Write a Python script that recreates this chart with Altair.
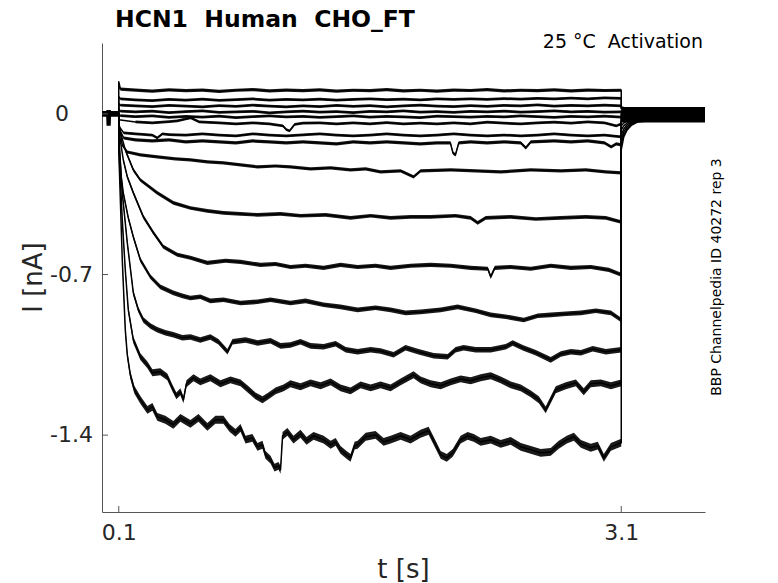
import altair as alt
import pandas as pd

# ---------------- data ----------------
X_TICKS = [0.1, 3.1]
X_LABELS = ["0.1", "3.1"]
Y_TICKS = [0, -0.7, -1.4]
Y_LABELS = ["0", "-0.7", "-1.4"]

T_FLAT = [0.1, 0.1, 0.11, 0.2, 0.3, 0.4, 0.5, 0.6, 0.7, 0.8, 0.9, 1.0, 1.1, 1.2, 1.3, 1.4, 1.5,
          1.6, 1.7, 1.8, 1.9, 2.0, 2.1, 2.2, 2.3, 2.4, 2.5, 2.6, 2.7, 2.8, 2.9, 3.0, 3.1]
I1 = [0.0, 0.14, 0.108, 0.104, 0.099, 0.105, 0.101, 0.104, 0.098, 0.103, 0.106, 0.100, 0.104,
      0.101, 0.105, 0.099, 0.103, 0.101, 0.106, 0.100, 0.103, 0.099, 0.104, 0.102, 0.106, 0.100,
      0.103, 0.101, 0.105, 0.100, 0.104, 0.102, 0.103]
I2 = [0.0, 0.075, 0.066, 0.061, 0.058, 0.063, 0.060, 0.064, 0.059, 0.062, 0.065, 0.060, 0.063,
      0.061, 0.064, 0.060, 0.063, 0.066, 0.062, 0.064, 0.061, 0.065, 0.063, 0.066, 0.063, 0.067,
      0.064, 0.068, 0.065, 0.069, 0.066, 0.070, 0.068]
I3 = [0.0, 0.045, 0.038, 0.035, 0.032, 0.037, 0.034, 0.031, 0.036, 0.033, 0.038, 0.034, 0.031,
      0.035, 0.032, 0.037, 0.033, 0.036, 0.031, 0.035, 0.038, 0.034, 0.032, 0.036, 0.033, 0.037,
      0.035, 0.039, 0.034, 0.037, 0.035, 0.038, 0.035]
I4 = [0.0, 0.02, 0.012, 0.009, 0.012, 0.006, 0.010, 0.013, 0.007, 0.009, 0.011, 0.005, 0.009,
      0.012, 0.008, 0.010, 0.006, 0.011, 0.009, 0.013, 0.008, 0.010, 0.007, 0.011, 0.009, 0.012,
      0.008, 0.010, 0.013, 0.009, 0.011, 0.008, 0.009]
I5 = [0.0, -0.004, -0.008, -0.012, -0.009, -0.015, -0.011, -0.014, -0.010, -0.016, -0.012, -0.009,
      -0.013, -0.011, -0.015, -0.012, -0.009, -0.014, -0.011, -0.013, -0.016, -0.010, -0.012,
      -0.014, -0.011, -0.013, -0.009, -0.012, -0.015, -0.011, -0.013, -0.010, -0.014]

T6 = [0.1, 0.1, 0.2, 0.3, 0.4, 0.45, 0.5, 0.53, 0.58, 0.7, 0.8, 0.9, 1.0, 1.08, 1.1, 1.12, 1.15,
      1.2, 1.3, 1.4, 1.5, 1.6, 1.7, 1.8, 1.9, 2.0, 2.1, 2.2, 2.3, 2.4, 2.5, 2.6, 2.7, 2.8, 2.9,
      3.0, 3.07, 3.1]
I6 = [0.0, -0.026, -0.035, -0.039, -0.034, -0.030, -0.022, -0.017, -0.035, -0.039, -0.044, -0.039,
      -0.044, -0.052, -0.068, -0.074, -0.046, -0.040, -0.039, -0.044, -0.039, -0.043, -0.038,
      -0.044, -0.040, -0.044, -0.039, -0.043, -0.036, -0.040, -0.044, -0.039, -0.036, -0.040,
      -0.035, -0.039, -0.052, -0.044]

T7 = [0.1, 0.1, 0.13, 0.2, 0.3, 0.33, 0.36, 0.4, 0.5, 0.6, 0.7, 0.8, 0.9, 1.0, 1.1, 1.2, 1.3, 1.4,
      1.5, 1.6, 1.7, 1.8, 1.9, 2.0, 2.1, 2.2, 2.3, 2.4, 2.5, 2.6, 2.7, 2.8, 2.9, 3.0, 3.1]
I7 = [0.0, -0.052, -0.083, -0.087, -0.092, -0.105, -0.087, -0.090, -0.092, -0.087, -0.092, -0.096,
      -0.087, -0.092, -0.096, -0.091, -0.087, -0.092, -0.096, -0.092, -0.087, -0.092, -0.096,
      -0.092, -0.087, -0.092, -0.096, -0.092, -0.096, -0.092, -0.087, -0.092, -0.096, -0.092, -0.100]

T8 = [0.1, 0.1, 0.13, 0.2, 0.3, 0.4, 0.5, 0.6, 0.7, 0.8, 0.9, 1.0, 1.1, 1.2, 1.3, 1.4, 1.5, 1.6,
      1.7, 1.8, 1.9, 2.0, 2.08, 2.095, 2.11, 2.13, 2.2, 2.3, 2.4, 2.5, 2.53, 2.56, 2.7, 2.8, 2.9,
      3.0, 3.04, 3.07, 3.1]
I8 = [0.0, -0.061, -0.105, -0.113, -0.118, -0.113, -0.122, -0.118, -0.122, -0.126, -0.118, -0.122,
      -0.126, -0.122, -0.126, -0.131, -0.122, -0.126, -0.122, -0.126, -0.131, -0.126, -0.126,
      -0.170, -0.179, -0.126, -0.122, -0.126, -0.122, -0.126, -0.148, -0.122, -0.118, -0.122,
      -0.118, -0.126, -0.144, -0.131, -0.135]

T9 = [0.1, 0.1, 0.121, 0.151, 0.229, 0.330, 0.438, 0.528, 0.629, 0.725, 0.827, 0.928, 1.036, 1.125,
      1.245, 1.365, 1.484, 1.574, 1.663, 1.783, 1.860, 1.902, 2.082, 2.231, 2.380, 2.560, 2.739,
      2.889, 3.008, 3.1]
I9 = [0.0, -0.035, -0.135, -0.166, -0.179, -0.187, -0.196, -0.200, -0.209, -0.213, -0.222, -0.231,
      -0.227, -0.231, -0.240, -0.235, -0.244, -0.240, -0.253, -0.248, -0.274, -0.248, -0.244,
      -0.248, -0.253, -0.244, -0.248, -0.244, -0.253, -0.257]

T10 = [0.1, 0.1, 0.139, 0.187, 0.229, 0.330, 0.426, 0.528, 0.629, 0.725, 0.827, 0.928, 1.066,
       1.185, 1.335, 1.484, 1.604, 1.723, 1.842, 1.962, 2.111, 2.201, 2.243, 2.291, 2.440, 2.590,
       2.739, 2.889, 3.008, 3.1]
I10 = [0.0, -0.052, -0.157, -0.244, -0.288, -0.344, -0.388, -0.410, -0.423, -0.431, -0.436, -0.440,
       -0.436, -0.444, -0.440, -0.453, -0.444, -0.453, -0.449, -0.449, -0.444, -0.453, -0.475,
       -0.453, -0.449, -0.458, -0.453, -0.449, -0.453, -0.471]

T11 = [0.1, 0.1, 0.127, 0.151, 0.187, 0.247, 0.307, 0.366, 0.450, 0.528, 0.629, 0.737, 0.827,
       0.946, 1.036, 1.125, 1.215, 1.323, 1.424, 1.526, 1.633, 1.723, 1.842, 1.962, 2.082, 2.201,
       2.303, 2.321, 2.345, 2.440, 2.560, 2.679, 2.799, 2.918, 3.026, 3.1]
I11 = [0.0, -0.070, -0.200, -0.274, -0.344, -0.449, -0.518, -0.579, -0.614, -0.627, -0.649, -0.640,
       -0.645, -0.658, -0.654, -0.667, -0.662, -0.671, -0.658, -0.667, -0.662, -0.671, -0.662,
       -0.658, -0.662, -0.671, -0.675, -0.710, -0.671, -0.667, -0.675, -0.662, -0.671, -0.667,
       -0.680, -0.701]

T12 = [0.1, 0.1, 0.115, 0.127, 0.157, 0.187, 0.229, 0.289, 0.348, 0.426, 0.480, 0.528, 0.587,
       0.647, 0.725, 0.827, 0.928, 1.006, 1.125, 1.215, 1.323, 1.424, 1.526, 1.633, 1.723, 1.812,
       1.902, 2.022, 2.123, 2.231, 2.321, 2.410, 2.518, 2.602, 2.679, 2.769, 2.859, 2.948, 3.038, 3.1]
I12 = [0.0, -0.092, -0.274, -0.344, -0.453, -0.536, -0.636, -0.710, -0.754, -0.780, -0.793, -0.802,
       -0.797, -0.815, -0.810, -0.824, -0.819, -0.810, -0.824, -0.815, -0.832, -0.841, -0.854,
       -0.845, -0.854, -0.867, -0.863, -0.854, -0.841, -0.858, -0.876, -0.884, -0.898, -0.880,
       -0.876, -0.871, -0.867, -0.858, -0.867, -0.898]

T13 = [0.1, 0.1, 0.121, 0.151, 0.187, 0.217, 0.247, 0.289, 0.330, 0.378, 0.426, 0.480, 0.528,
       0.587, 0.647, 0.695, 0.749, 0.779, 0.857, 0.928, 1.006, 1.066, 1.125, 1.185, 1.245, 1.323,
       1.395, 1.455, 1.526, 1.604, 1.663, 1.741, 1.812, 1.890, 1.980, 2.064, 2.111, 2.159, 2.231,
       2.321, 2.410, 2.452, 2.512, 2.590, 2.679, 2.739, 2.799, 2.859, 2.930, 3.008, 3.1]
I13 = [0.0, -0.113, -0.344, -0.562, -0.780, -0.854, -0.898, -0.924, -0.941, -0.954, -0.963, -0.976,
       -0.972, -0.985, -0.972, -0.993, -1.037, -0.993, -0.985, -0.998, -0.989, -1.011, -1.007,
       -0.993, -1.011, -1.015, -1.002, -1.028, -1.037, -1.028, -1.033, -1.050, -1.019, -1.037,
       -1.054, -1.058, -1.028, -1.019, -1.028, -1.028, -1.015, -0.998, -1.019, -1.041, -1.072,
       -1.046, -1.037, -1.041, -1.024, -1.037, -1.028]

T14 = [0.1, 0.1, 0.121, 0.139, 0.157, 0.187, 0.229, 0.271, 0.301, 0.348, 0.390, 0.420, 0.444,
       0.468, 0.486, 0.504, 0.546, 0.587, 0.647, 0.707, 0.767, 0.827, 0.875, 0.916, 0.958, 0.994,
       1.036, 1.084, 1.125, 1.185, 1.245, 1.305, 1.365, 1.424, 1.484, 1.544, 1.604, 1.663, 1.723,
       1.783, 1.860, 1.902, 1.962, 2.022, 2.082, 2.141, 2.201, 2.261, 2.321, 2.380, 2.440, 2.500,
       2.560, 2.608, 2.649, 2.679, 2.709, 2.769, 2.829, 2.876, 2.918, 2.978, 3.038, 3.1]
I14 = [0.0, -0.135, -0.462, -0.680, -0.854, -0.985, -1.058, -1.094, -1.128, -1.124, -1.146, -1.194,
       -1.229, -1.211, -1.246, -1.176, -1.150, -1.168, -1.150, -1.176, -1.159, -1.172, -1.202,
       -1.229, -1.246, -1.229, -1.207, -1.194, -1.176, -1.189, -1.172, -1.185, -1.168, -1.194,
       -1.207, -1.181, -1.194, -1.181, -1.194, -1.168, -1.137, -1.159, -1.176, -1.185, -1.168,
       -1.155, -1.163, -1.150, -1.141, -1.159, -1.181, -1.194, -1.220, -1.246, -1.290, -1.246,
       -1.202, -1.185, -1.172, -1.211, -1.176, -1.172, -1.185, -1.172]

T15 = [0.1, 0.1, 0.121, 0.139, 0.151, 0.169, 0.193, 0.229, 0.271, 0.301, 0.330, 0.378, 0.426,
       0.468, 0.528, 0.576, 0.629, 0.677, 0.725, 0.761, 0.797, 0.827, 0.857, 0.898, 0.928, 0.958,
       0.976, 1.006, 1.030, 1.054, 1.066, 1.078, 1.107, 1.143, 1.185, 1.221, 1.263, 1.323, 1.365,
       1.395, 1.424, 1.460, 1.484, 1.508, 1.526, 1.574, 1.633, 1.681, 1.723, 1.783, 1.842, 1.902,
       1.950, 1.992, 2.022, 2.058, 2.094, 2.141, 2.183, 2.219, 2.261, 2.321, 2.380, 2.440, 2.500,
       2.560, 2.619, 2.679, 2.727, 2.775, 2.817, 2.859, 2.918, 2.960, 2.996, 3.038, 3.1]
I15 = [0.0, -0.157, -0.636, -0.941, -1.050, -1.137, -1.202, -1.246, -1.290, -1.277, -1.320, -1.333,
       -1.355, -1.325, -1.351, -1.325, -1.364, -1.333, -1.333, -1.368, -1.390, -1.368, -1.420,
       -1.412, -1.451, -1.442, -1.486, -1.507, -1.542, -1.534, -1.551, -1.403, -1.386, -1.420,
       -1.394, -1.425, -1.403, -1.420, -1.442, -1.429, -1.464, -1.486, -1.499, -1.446, -1.442,
       -1.407, -1.399, -1.429, -1.420, -1.403, -1.420, -1.394, -1.381, -1.442, -1.486, -1.499,
       -1.477, -1.420, -1.403, -1.412, -1.429, -1.420, -1.438, -1.425, -1.451, -1.464, -1.477,
       -1.473, -1.442, -1.420, -1.407, -1.438, -1.455, -1.446, -1.499, -1.451, -1.433]

# half-width of the recording noise on each trace during the step (nA)
NOISE = [0.007, 0.006, 0.006, 0.006, 0.006, 0.006, 0.006, 0.007, 0.007, 0.008, 0.009, 0.010,
         0.012, 0.015, 0.017]

# tail currents after the step (t >= 3.1)
T_TAIL = [3.1, 3.115, 3.135, 3.16, 3.2, 3.3, 3.6]
TAILS = [
    [0.030, 0.028, 0.026, 0.025, 0.024, 0.024, 0.024],
    [0.026, 0.024, 0.022, 0.020, 0.020, 0.020, 0.020],
    [0.022, 0.020, 0.018, 0.017, 0.016, 0.016, 0.016],
    [0.013, 0.012, 0.012, 0.012, 0.012, 0.012, 0.012],
    [0.004, 0.006, 0.007, 0.008, 0.008, 0.008, 0.008],
    [-0.004, 0.000, 0.002, 0.003, 0.004, 0.004, 0.004],
    [-0.017, -0.010, -0.006, -0.003, -0.001, 0.000, 0.000],
    [-0.026, -0.018, -0.012, -0.008, -0.005, -0.004, -0.003],
    [-0.035, -0.026, -0.020, -0.015, -0.010, -0.008, -0.006],
    [-0.052, -0.040, -0.030, -0.022, -0.016, -0.012, -0.010],
    [-0.070, -0.052, -0.040, -0.030, -0.022, -0.016, -0.014],
    [-0.092, -0.066, -0.048, -0.035, -0.026, -0.020, -0.017],
    [-0.113, -0.078, -0.056, -0.040, -0.030, -0.024, -0.020],
    [-0.135, -0.090, -0.065, -0.045, -0.032, -0.026, -0.022],
    [-0.157, -0.100, -0.070, -0.050, -0.035, -0.028, -0.025],
]

# noise bands of the overlapping traces before and after the step
PRE_T = [0.0, 0.025, 0.027, 0.052, 0.054, 0.1]
PRE_LO = [-0.012, -0.012, -0.052, -0.052, -0.012, -0.012]
PRE_HI = [0.013, 0.013, 0.017, 0.017, 0.013, 0.013]
POST_T = [3.1, 3.6]
POST_LO = [-0.037, -0.037]
POST_HI = [0.030, 0.030]

TITLE = "HCN1 \u00a0Human \u00a0CHO_FT"
NOTE = "25 \u00b0C \u00a0Activation"
SIDE = "BBP Channelpedia ID 40272 rep 3"

# ---------------- assemble ----------------
TRACE_T = [T_FLAT, T_FLAT, T_FLAT, T_FLAT, T_FLAT, T6, T7, T8, T9, T10, T11, T12, T13, T14, T15]
TRACE_I = [I1, I2, I3, I4, I5, I6, I7, I8, I9, I10, I11, I12, I13, I14, I15]

rows, env = [], []
for n, (tt, ii, tail, amp) in enumerate(zip(TRACE_T, TRACE_I, TAILS, NOISE)):
    for j, (t, v) in enumerate(zip(list(tt) + T_TAIL, list(ii) + tail)):
        rows.append({"trace": n + 1, "k": j, "t": t, "I": v})
    for t, v in zip(tt[2:], ii[2:]):
        env.append({"trace": n + 1, "t": t, "lo": v - amp, "hi": v + amp})
traces = pd.DataFrame(rows)
envelope = pd.DataFrame(env)

pre = pd.DataFrame({"t": PRE_T, "lo": PRE_LO, "hi": PRE_HI})
post = pd.DataFrame({"t": POST_T, "lo": POST_LO, "hi": POST_HI})
xt = pd.DataFrame({"t": X_TICKS})
yt = pd.DataFrame({"I": Y_TICKS, "lab": Y_LABELS})
yt_zero = yt[yt["I"] == 0]
yt_rest = yt[yt["I"] != 0]

FONT = "DejaVu Sans"
AX = "#555555"
TXT = "#262626"
W, H = 603, 469

XS = alt.Scale(domain=[0, 3.6], nice=False, zero=False)
YS = alt.Scale(domain=[-1.735, 0.309], nice=False, zero=False)


def label_expr(vals, labs):
    expr = "''"
    for v, lab in reversed(list(zip(vals, labs))):
        expr = f"abs(datum.value - ({v})) < 1e-9 ? '{lab}' : {expr}"
    return expr


x_axis = alt.Axis(values=X_TICKS, labelExpr=label_expr(X_TICKS, X_LABELS), title="t [s]",
                  ticks=False, tickSize=0, grid=False, domainColor=AX, domainWidth=1,
                  labelFont=FONT, labelFontSize=22, labelColor=TXT, labelPadding=10,
                  labelFlush=False, labelAngle=0,
                  titleFont=FONT, titleFontSize=26, titleFontWeight="normal", titleColor=TXT,
                  titleX=301, titleY=57, titleAlign="center", titleBaseline="middle")
y_axis = alt.Axis(values=Y_TICKS, labels=False, title="I [nA]",
                  ticks=False, tickSize=0, grid=False, domainColor=AX, domainWidth=1,
                  titleFont=FONT, titleFontSize=26, titleFontWeight="normal", titleColor=TXT,
                  titleX=-69, titleY=234, titleAngle=270, titleAlign="center",
                  titleBaseline="middle")

X = alt.X("t:Q", scale=XS, axis=x_axis, title="t [s]")
Y = alt.Y("I:Q", scale=YS, axis=y_axis, title="I [nA]")

lines = alt.Chart(traces).mark_line(color="black", strokeWidth=1.5, strokeJoin="round").encode(
    x=X, y=Y, detail="trace:N", order="k:Q")

noise = alt.Chart(envelope).mark_area(color="black", fillOpacity=0.9, strokeWidth=0).encode(
    x=X,
    y=alt.Y("lo:Q", scale=YS, axis=y_axis, title="I [nA]"),
    y2=alt.Y2("hi"),
    detail="trace:N")

band_pre = alt.Chart(pre).mark_area(color="black").encode(
    x=X, y=alt.Y("lo:Q", scale=YS, axis=y_axis, title="I [nA]"), y2=alt.Y2("hi"))
band_post = alt.Chart(post).mark_area(color="black").encode(
    x=X, y=alt.Y("lo:Q", scale=YS, axis=y_axis, title="I [nA]"), y2=alt.Y2("hi"))

xticks = alt.Chart(xt).mark_rule(color=AX, strokeWidth=1).encode(
    x=X, y=alt.value(H), y2=alt.value(H - 6))
yticks = alt.Chart(yt).mark_rule(color=AX, strokeWidth=1).encode(
    y=Y, x=alt.value(0), x2=alt.value(6))

ylab_rest = alt.Chart(yt_rest).mark_text(
    font=FONT, fontSize=22, align="right", baseline="middle", color=TXT).encode(
    y=Y, x=alt.value(-9), text="lab:N")
ylab_zero = alt.Chart(yt_zero).mark_text(
    font=FONT, fontSize=22, align="right", baseline="middle", color=TXT).encode(
    y=Y, x=alt.value(-33), text="lab:N")

title = alt.Chart(pd.DataFrame({"s": [TITLE]})).mark_text(
    font=FONT, fontSize=23.5, fontWeight="bold", align="left", baseline="alphabetic",
    color="black").encode(text="s:N", x=alt.value(13), y=alt.value(-16))
note = alt.Chart(pd.DataFrame({"s": [NOTE]})).mark_text(
    font=FONT, fontSize=19, align="right", baseline="alphabetic", color="black").encode(
    text="s:N", x=alt.value(601), y=alt.value(5))
side = alt.Chart(pd.DataFrame({"s": [SIDE]})).mark_text(
    font=FONT, fontSize=14, align="center", baseline="middle", angle=270, color="black").encode(
    text="s:N", x=alt.value(615), y=alt.value(234))

chart = alt.layer(lines, noise, band_pre, band_post, xticks, yticks, ylab_rest, ylab_zero,
                  title, note, side).properties(
    width=W, height=H,
    autosize=alt.AutoSizeParams(type="none"),
    padding={"left": 94, "top": 35, "right": 60, "bottom": 70},
    background="white",
).configure_view(stroke=None)

chart.save("out.html", embed_options={"renderer": "svg", "actions": False})
